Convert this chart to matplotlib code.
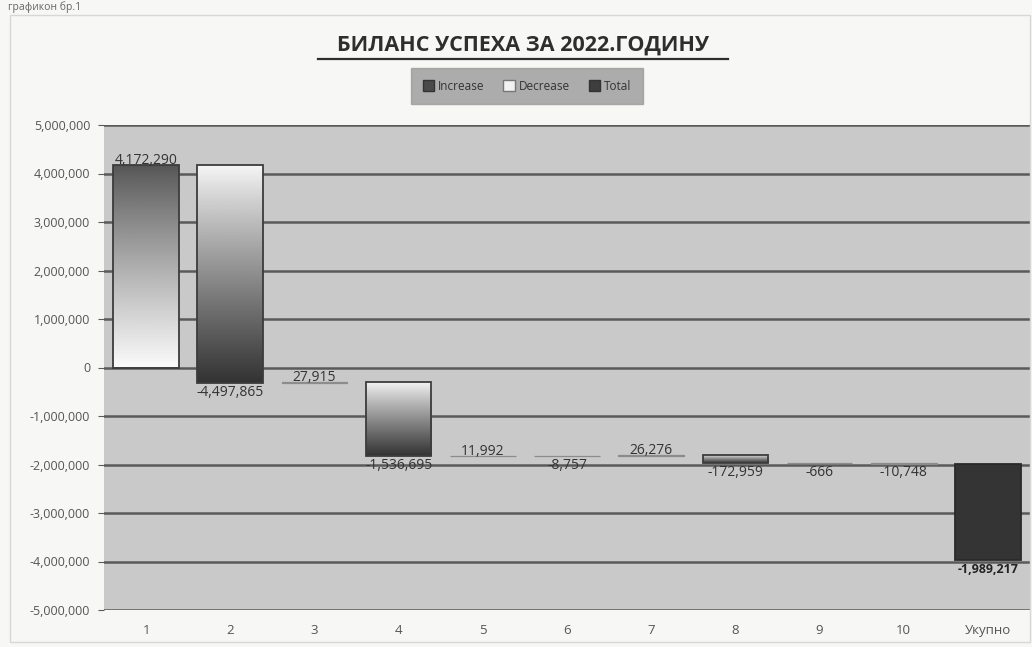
import numpy as np
import matplotlib

matplotlib.use("Agg")
import matplotlib.pyplot as plt
from matplotlib.lines import Line2D
from matplotlib.patches import Rectangle
from matplotlib.ticker import FuncFormatter, MultipleLocator

CATEGORIES = ["1", "2", "3", "4", "5", "6", "7", "8", "9", "10", "Укупно"]
CHANGES = [4172290, -4497865, 27915, -1536695, 11992, -8757, 26276, -172959, -666, -10748]
TOTAL = -1989217
TITLE = "БИЛАНС УСПЕХА ЗА 2022.ГОДИНУ"
CAPTION = "графикон бр.1"
LEGEND_LABELS = ["Increase", "Decrease", "Total"]

FONT = ["Open Sans", "DejaVu Sans"]
plt.rcParams["font.family"] = FONT

PLOT_BG = "#c9c9c9"
GRID = "#5a5a5a"
EDGE = "#3c3c3c"


def gradient_bar(ax, x, y0, y1, width, top_shade, bottom_shade):
    """Draw one bar with a vertical grey gradient clipped to its rectangle."""
    lo, hi = min(y0, y1), max(y0, y1)
    thin = hi - lo < 100_000
    rect = Rectangle((x - width / 2, lo), width, hi - lo, facecolor="none",
                     edgecolor="#8c8c8c" if thin else EDGE,
                     linewidth=0.9 if thin else 1.3, zorder=4)
    ax.add_patch(rect)
    t = np.linspace(0, 1, 256)[:, None]
    shade = top_shade + (bottom_shade - top_shade) * t ** 0.9
    img = ax.imshow(shade, cmap="gray", vmin=0, vmax=1, aspect="auto",
                    extent=(x - width / 2, x + width / 2, lo, hi),
                    origin="upper", zorder=3, interpolation="bilinear")
    img.set_clip_path(rect)


fig = plt.figure(figsize=(10.32, 6.47), dpi=100)
fig.patch.set_facecolor("#f7f7f5")
fig.add_artist(Rectangle((10 / 1032, 5 / 647), 1020 / 1032, 627 / 647,
                         transform=fig.transFigure, facecolor="none",
                         edgecolor="#d8d8d8", linewidth=1))
fig.text(8 / 1032, 1 - 1 / 647, CAPTION, ha="left", va="top", fontsize=7.5,
         color="#666666")

ax = fig.add_axes([104 / 1032, 37 / 647, 926 / 1032, 485 / 647])
ax.set_facecolor(PLOT_BG)

ends = np.cumsum(CHANGES)
starts = ends - np.array(CHANGES)
width = 0.78

for i, (s, d) in enumerate(zip(starts, CHANGES)):
    e = s + d
    if d > 0:
        gradient_bar(ax, i, s, e, width, 0.33, 0.98)
        ax.annotate(f"{d:,}", (i, e), xytext=(0, -2), textcoords="offset points",
                    ha="center", va="bottom", fontsize=10, color="#333333", zorder=6)
    else:
        gradient_bar(ax, i, s, e, width, 0.97, 0.2)
        ax.annotate(f"{d:,}", (i, e), xytext=(0, -1), textcoords="offset points",
                    ha="center", va="top", fontsize=10, color="#333333", zorder=6)

# the total column is stacked on an invisible base sitting at the running end
n = len(CHANGES)
ax.add_patch(Rectangle((n - width / 2, TOTAL), width, TOTAL, facecolor="#343434",
                       edgecolor="#2a2a2a", linewidth=1.3, zorder=4))
ax.annotate(f"{TOTAL:,}", (n, 2 * TOTAL), xytext=(0, -2), textcoords="offset points",
            ha="center", va="top", fontsize=9, fontweight="bold", color="#222222",
            zorder=6)

ax.set_xlim(-0.5, len(CATEGORIES) - 0.5)
ax.set_ylim(-5_000_000, 5_000_000)
ax.yaxis.set_major_locator(MultipleLocator(1_000_000))
ax.yaxis.set_major_formatter(FuncFormatter(lambda v, _: f"{v:,.0f}"))
ax.grid(axis="y", color=GRID, linewidth=1.8, zorder=1)
ax.set_axisbelow(True)
ax.set_xticks(range(len(CATEGORIES)))
ax.set_xticklabels(CATEGORIES)
ax.tick_params(axis="x", length=0, pad=10, labelsize=9.5, labelcolor="#555555")
ax.tick_params(axis="y", length=4, color=GRID, pad=6, labelsize=9,
               labelcolor="#555555")
for side in ax.spines.values():
    side.set_visible(False)

fig.text(523 / 1032, 1 - 45 / 647, TITLE, ha="center", va="center",
         fontsize=15.5, fontweight="bold", color="#2e2e2e")
fig.add_artist(Line2D([318 / 1032, 728 / 1032], [1 - 59 / 647, 1 - 59 / 647],
                      transform=fig.transFigure, color="#2e2e2e", linewidth=1.6))

handles = [Rectangle((0, 0), 1, 1, facecolor="#4a4a4a", edgecolor="#333333"),
           Rectangle((0, 0), 1, 1, facecolor="#f2f2f2", edgecolor="#777777"),
           Rectangle((0, 0), 1, 1, facecolor="#3e3e3e", edgecolor="#333333")]
leg = fig.legend(handles, LEGEND_LABELS, loc="center", ncol=3,
                 bbox_to_anchor=(527 / 1032, 1 - 86 / 647), fontsize=8.5,
                 frameon=True, fancybox=False, handlelength=1.0, handleheight=1.0,
                 handletextpad=0.3, columnspacing=1.6, borderpad=1.0,
                 borderaxespad=0)
leg.get_frame().set_facecolor("#9a9a9a")
leg.get_frame().set_edgecolor("#9a9a9a")
for t in leg.get_texts():
    t.set_color("#333333")

fig.savefig("out.png", dpi=100, facecolor=fig.get_facecolor())
